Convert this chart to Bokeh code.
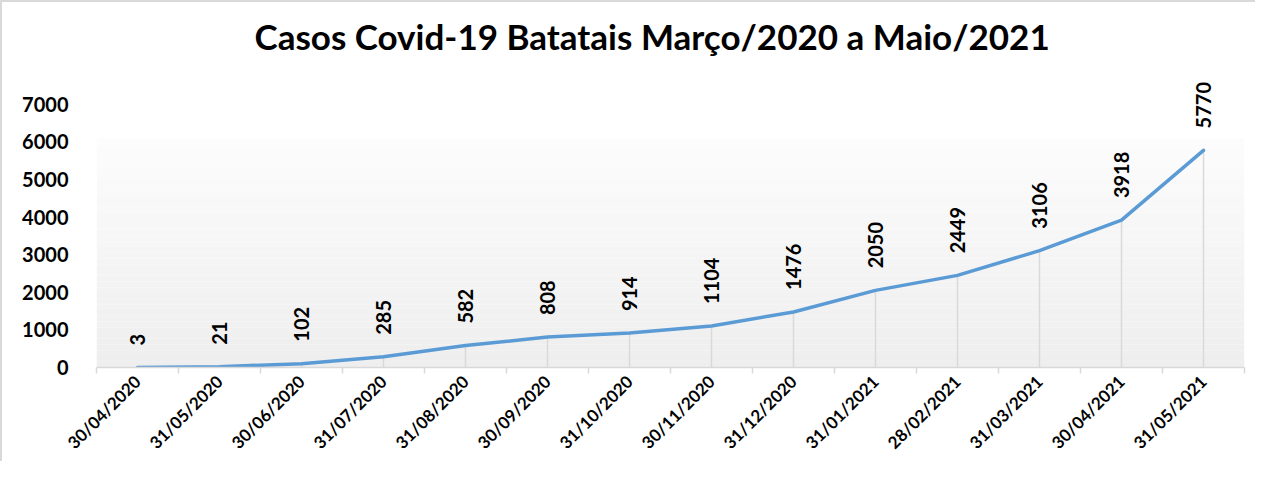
import math
from bokeh.plotting import figure
from bokeh.models import (Range1d, FixedTicker, BoxAnnotation, ColumnDataSource)
from bokeh.core.properties import value
from bokeh.embed import file_html
from bokeh.resources import INLINE

dates = ["30/04/2020", "31/05/2020", "30/06/2020", "31/07/2020", "31/08/2020",
         "30/09/2020", "31/10/2020", "30/11/2020", "31/12/2020", "31/01/2021",
         "28/02/2021", "31/03/2021", "30/04/2021", "31/05/2021"]
cases = [3, 21, 102, 285, 582, 808, 914, 1104, 1476, 2050, 2449, 3106, 3918, 5770]
y_ticks = [0, 1000, 2000, 3000, 4000, 5000, 6000, 7000]
title_text = "Casos Covid-19 Batatais Março/2020 a Maio/2021"

FONT = "Lato"
n = len(dates)
xs = [i + 0.5 for i in range(n)]
src = ColumnDataSource(dict(x=xs, y=cases, zero=[0] * n,
                            lbl=[str(v) for v in cases]))

p = figure(width=1255, height=461, output_backend="svg", toolbar_location=None,
           x_range=Range1d(0, n), y_range=Range1d(0, 8000),
           min_border_left=94, min_border_right=13, min_border_bottom=90,
           min_border_top=0)
p.styles = {"border-top": "2px solid #d9d9d9", "border-left": "2px solid #d9d9d9",
            "box-sizing": "border-box"}

p.title.text = title_text
p.title.align = "left"
p.title.offset = 158
p.title.text_font = FONT
p.title.text_font_style = "bold"
p.title.text_font_size = "35px"
p.title.text_color = "#000000"
p.title.standoff = 20

p.background_fill_color = "#ffffff"
p.border_fill_color = "#ffffff"
p.outline_line_color = None
p.grid.visible = False

# gradient background (decorative bands)
nb = 40
top_val = 6100
c0 = (0xee, 0xee, 0xee)
c1 = (0xfc, 0xfc, 0xfc)
for k in range(nb):
    t = k / (nb - 1)
    col = "#%02x%02x%02x" % tuple(int(round(a + (b - a) * t)) for a, b in zip(c0, c1))
    p.add_layout(BoxAnnotation(bottom=top_val * k / nb, top=top_val * (k + 1) / nb,
                               fill_color=col, fill_alpha=1.0, line_color=None,
                               level="underlay"))

p.segment(x0="x", y0="zero", x1="x", y1="y", source=src,
          line_color="#d9d9d9", line_width=1.5)
p.line("x", "y", source=src, line_color="#5b9bd5", line_width=3.5,
       line_join="round", line_cap="round")
p.text("x", "y", text="lbl", source=src, angle=math.pi / 2, text_align="left",
       text_baseline="middle", y_offset=-22, text_font=value(FONT),
       text_font_style="bold", text_font_size="20px", text_color="#000000")

xa = p.xaxis[0]
xa.ticker = FixedTicker(ticks=xs, minor_ticks=list(range(n + 1)))
xa.major_label_overrides = {x: d for x, d in zip(xs, dates)}
xa.major_label_orientation = math.pi / 4
xa.major_label_text_font = FONT
xa.major_label_text_font_style = "bold"
xa.major_label_text_font_size = "17px"
xa.major_label_text_line_height = 0.6
xa.major_label_text_color = "#000000"
xa.major_tick_line_color = None
xa.minor_tick_line_color = "#d9d9d9"
xa.minor_tick_line_width = 1.5
xa.minor_tick_in = 0
xa.minor_tick_out = 6
xa.axis_line_color = "#d9d9d9"
xa.axis_line_width = 1.5
xa.major_label_standoff = 5

ya = p.yaxis[0]
ya.ticker = FixedTicker(ticks=y_ticks)
ya.axis_line_color = None
ya.major_tick_line_color = None
ya.minor_tick_line_color = None
ya.major_label_text_font = FONT
ya.major_label_text_font_style = "bold"
ya.major_label_text_font_size = "20px"
ya.major_label_text_color = "#000000"
ya.major_label_standoff = 22

open("out.html", "w").write(file_html(p, INLINE))
